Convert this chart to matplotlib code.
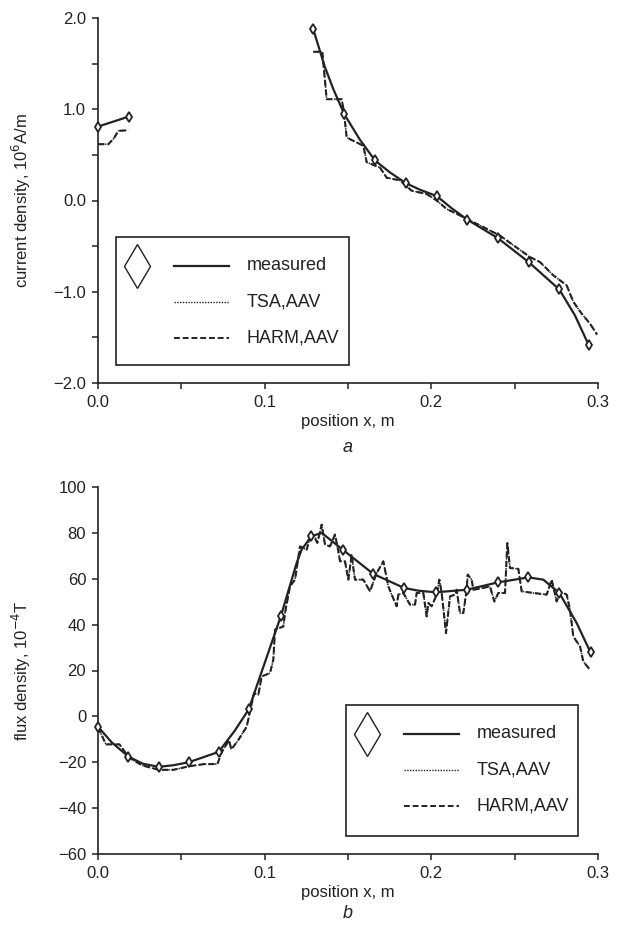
import numpy as np
import matplotlib
matplotlib.use("Agg")
import matplotlib.pyplot as plt
from matplotlib.patches import Rectangle
from matplotlib.ticker import MultipleLocator, FuncFormatter

plt.rcParams['font.family'] = ['Liberation Sans', 'DejaVu Sans']

INK = '#222222'

# ---- panel a: current density (10^6 A/m) ----
meas_a_x = [0.0, 0.0185, None, 0.1292, 0.1478, 0.1662, 0.1846, 0.2032, 0.2216, 0.2400, 0.2584, 0.2768, 0.2945]
meas_a_y = [0.81, 0.92, None, 1.874, 0.945, 0.439, 0.191, 0.049, -0.21, -0.413, -0.675, -0.975, -1.587]

# solid curve (markers plus in-between readings)
curve_a_x = [0.0, 0.0185, None,
             0.1292, 0.1360, 0.1412, 0.1478, 0.1570, 0.1662, 0.1750, 0.1846, 0.1932,
             0.2032, 0.2122, 0.2216, 0.2400, 0.2584, 0.2768, 0.2862, 0.2945]
curve_a_y = [0.81, 0.92, None,
             1.874, 1.47, 1.22, 0.945, 0.67, 0.439, 0.31, 0.191, 0.118,
             0.049, -0.085, -0.21, -0.413, -0.675, -0.975, -1.26, -1.587]

harm_a_x = [0.0, 0.0062, 0.0095, 0.0122, 0.0182, None,
            0.1292, 0.1346, 0.1372, 0.1462, 0.1476, 0.1492, 0.1592, 0.1612, 0.1692,
            0.1732, 0.1812, 0.1882, 0.1972, 0.2032, 0.2092, 0.2212, 0.2332, 0.2412,
            0.2492, 0.2592, 0.2652, 0.2732, 0.2812, 0.2852, 0.2902, 0.2952, 0.2995]
harm_a_y = [0.617, 0.617, 0.68, 0.763, 0.77, None,
            1.63, 1.63, 1.11, 1.11, 0.967, 0.69, 0.60, 0.42, 0.36,
            0.25, 0.22, 0.107, 0.071, 0.0, -0.093, -0.20, -0.31, -0.385,
            -0.49, -0.62, -0.675, -0.82, -0.93, -1.11, -1.24, -1.35, -1.47]
tsa_a_x = harm_a_x
tsa_a_y = harm_a_y

# ---- panel b: flux density (10^-4 T) ----
meas_b_x = [0.0, 0.0182, 0.0364, 0.0544, 0.0724, 0.0904, 0.1098, 0.1280, 0.1468,
            0.1652, 0.1836, 0.2026, 0.2212, 0.2398, 0.2582, 0.2768, 0.2955]
meas_b_y = [-4.5, -17.5, -22.0, -20.0, -15.5, 3.0, 43.9, 78.5, 72.7,
            62.1, 56.0, 54.1, 55.2, 58.4, 60.6, 53.8, 27.9]

curve_b_x = [0.0, 0.0083, 0.0182, 0.0267, 0.0364, 0.0452, 0.0544, 0.0724, 0.0821,
             0.0904, 0.1098, 0.1192, 0.1222, 0.1280, 0.1342, 0.1468, 0.1652, 0.1836,
             0.1922, 0.2026, 0.2212, 0.2398, 0.2582, 0.2672, 0.2768, 0.2872, 0.2955]
curve_b_y = [-4.5, -11.4, -17.5, -20.6, -22.0, -21.3, -20.0, -15.5, -6.2,
             3.0, 43.9, 66.9, 72.7, 78.5, 80.0, 72.7, 62.1, 56.0,
             54.8, 54.1, 55.2, 58.4, 60.6, 59.6, 53.8, 40.7, 27.9]

harm_b_x = [0.0, 0.0048, 0.0129, 0.0187, 0.0267, 0.0364, 0.0452, 0.0544, 0.0636,
            0.0717, 0.0740, 0.0786, 0.0800, 0.0842, 0.0892, 0.0936, 0.0962, 0.0982,
            0.1032, 0.1052, 0.1062, 0.1112, 0.1122, 0.1152, 0.1182, 0.1212, 0.1252,
            0.1272, 0.1302, 0.1316, 0.1342, 0.1362, 0.1392, 0.1422, 0.1442, 0.1452,
            0.1482, 0.1502, 0.1522, 0.1532, 0.1542, 0.1592, 0.1632, 0.1672, 0.1712,
            0.1742, 0.1762, 0.1792, 0.1802, 0.1832, 0.1872, 0.1902, 0.1912, 0.1952,
            0.1972, 0.1982, 0.2002, 0.2032, 0.2048, 0.2062, 0.2088, 0.2112, 0.2142,
            0.2152, 0.2172, 0.2192, 0.2212, 0.2218, 0.2242, 0.2252, 0.2312, 0.2352,
            0.2378, 0.2402, 0.2442, 0.2456, 0.2472, 0.2522, 0.2542, 0.2612, 0.2692,
            0.2722, 0.2752, 0.2772, 0.2812, 0.2832, 0.2852, 0.2892, 0.2912, 0.2952]
harm_b_y = [-4.8, -12.2, -12.2, -18.1, -21.4, -23.3, -23.3, -21.8, -20.8,
            -20.8, -15.9, -10.4, -14.4, -10.3, -4.5, 10.1, 9.4, 17.4,
            18.9, 24.7, 37.8, 39.2, 45.1, 56.7, 59.6, 74.1, 72.7,
            77.8, 77.8, 75.6, 83.6, 74.9, 74.1, 79.3, 72.0, 67.6,
            67.6, 59.6, 70.5, 64.7, 59.6, 59.6, 54.5, 62.5, 67.6,
            56.7, 53.1, 48.0, 53.1, 53.8, 48.7, 48.7, 53.8, 53.8,
            43.6, 49.4, 48.0, 53.1, 59.6, 53.8, 36.3, 52.3, 53.1,
            55.2, 45.1, 45.1, 55.2, 61.8, 59.6, 55.2, 56.0, 56.7,
            50.1, 53.8, 53.8, 75.6, 64.7, 64.3, 54.5, 53.8, 53.1,
            59.6, 50.1, 54.5, 53.1, 46.5, 34.8, 30.5, 23.9, 20.3]
tsa_b_x = harm_b_x
tsa_b_y = harm_b_y

W, H = 625, 940


def to_arr(v):
    return np.array([np.nan if a is None else a for a in v], dtype=float)


def one_decimal(v, pos):
    return f'{v:.1f}'.replace('-', '\u2212')


def style_axes(ax):
    for s in ['top', 'right']:
        ax.spines[s].set_visible(False)
    for s in ['left', 'bottom']:
        ax.spines[s].set_linewidth(1.2)
        ax.spines[s].set_color(INK)
    ax.tick_params(which='both', direction='out', length=4.5, width=1.1,
                   color=INK, labelsize=12, labelcolor=INK, pad=4)
    ax.set_xlim(0, 0.3)
    ax.xaxis.set_major_locator(MultipleLocator(0.1))
    ax.xaxis.set_minor_locator(MultipleLocator(0.05))
    ax.xaxis.set_major_formatter(FuncFormatter(one_decimal))
    ax.set_xlabel('position x, m', fontsize=12, color=INK, labelpad=3)
    ax.patch.set_visible(False)


def draw_series(ax, mx, my, cx, cy, hx, hy, tx, ty):
    ax.plot(to_arr(tx), to_arr(ty), color=INK, lw=1.1, ls=(0, (1, 1.2)), clip_on=False)
    ax.plot(to_arr(hx), to_arr(hy), color=INK, lw=1.5, ls=(0, (3, 1.5)), clip_on=False)
    ax.plot(to_arr(cx), to_arr(cy), color=INK, lw=1.6, clip_on=False)
    ax.plot(to_arr(mx), to_arr(my), ls='none', marker='d', ms=5.5, mfc='white',
            mec=INK, mew=1.3, clip_on=False, zorder=5)


def draw_legend(ax, left, top, right, bottom):
    # box and entries in pixel coordinates of the figure
    def fx(px):
        return px / W

    def fy(py):
        return 1 - py / H
    fig = ax.figure
    fig.patches.append(Rectangle((fx(left), fy(bottom)), fx(right - left), (bottom - top) / H,
                                 transform=fig.transFigure, fill=False, ec=INK, lw=1.2))
    rows = [('measured', '-', 1.6), ('TSA,AAV', (0, (1, 1.0)), 1.0), ('HARM,AAV', (0, (3, 1.5)), 1.4)]
    offs = [29, 65, 101]
    fig.lines.append(plt.Line2D([fx(left + 21)], [fy(top + offs[0])], transform=fig.transFigure,
                                marker='d', ms=22, mfc='white', mec=INK, mew=1.0, ls='none'))
    for (lab, ls, lw), off in zip(rows, offs):
        y = fy(top + off)
        fig.lines.append(plt.Line2D([fx(left + 58), fx(left + 113)], [y, y],
                                    transform=fig.transFigure, color=INK, ls=ls, lw=lw))
        fig.text(fx(left + 131), y, lab, fontsize=13, color=INK, va='center', ha='left')


fig = plt.figure(figsize=(W / 100, H / 100), dpi=100)

# panel a
ax1 = fig.add_axes([98 / W, 1 - 383 / H, 500 / W, 365 / H])
style_axes(ax1)
ax1.set_ylim(-2.0, 2.0)
ax1.yaxis.set_major_locator(MultipleLocator(1.0))
ax1.yaxis.set_minor_locator(MultipleLocator(0.5))
ax1.yaxis.set_major_formatter(FuncFormatter(one_decimal))
ax1.set_ylabel('current density, 10$^{6}$A/m', fontsize=12, color=INK)
ax1.yaxis.set_label_coords(-0.13, 0.5)
draw_series(ax1, meas_a_x, meas_a_y, curve_a_x, curve_a_y, harm_a_x, harm_a_y, tsa_a_x, tsa_a_y)
draw_legend(ax1, 116, 237, 349, 365)
fig.text(348 / W, 1 - 447 / H, 'a', fontsize=13, style='italic', color=INK, ha='center', va='center')

# panel b
ax2 = fig.add_axes([98 / W, 1 - 854 / H, 500 / W, 367 / H])
style_axes(ax2)
ax2.set_ylim(-60, 100)
ax2.yaxis.set_major_locator(MultipleLocator(20))
ax2.set_ylabel('flux density, 10$^{-4}$T', fontsize=12, color=INK)
ax2.yaxis.set_label_coords(-0.13, 0.5)
draw_series(ax2, meas_b_x, meas_b_y, curve_b_x, curve_b_y, harm_b_x, harm_b_y, tsa_b_x, tsa_b_y)
draw_legend(ax2, 346, 705, 578, 836)
fig.text(348 / W, 1 - 913 / H, 'b', fontsize=13, style='italic', color=INK, ha='center', va='center')

fig.savefig('out.png', dpi=100, facecolor='white')
